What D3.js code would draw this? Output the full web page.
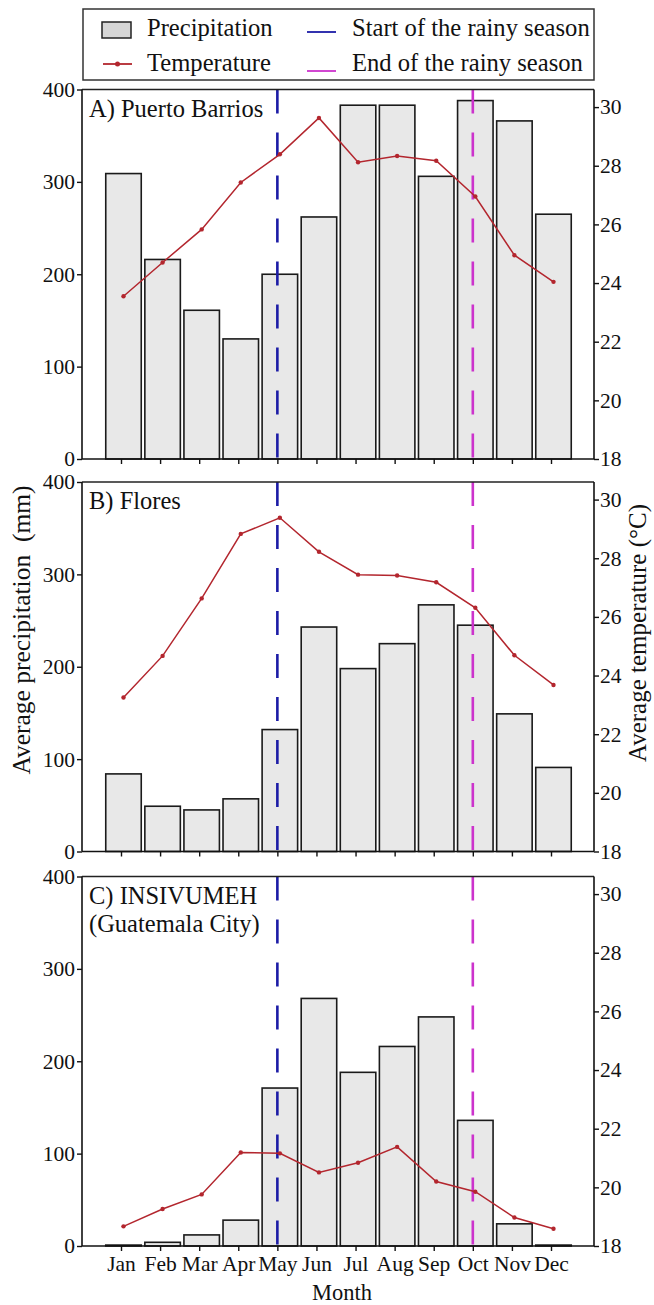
<!DOCTYPE html>
<html><head><meta charset="utf-8">
<script src="https://cdn.jsdelivr.net/npm/d3@7"></script>
<style>body{margin:0;background:#fff}svg{display:block}text{font-family:"Liberation Serif","Times New Roman",serif;fill:#111}</style>
</head><body>
<script>
const months = ["Jan","Feb","Mar","Apr","May","Jun","Jul","Aug","Sep","Oct","Nov","Dec"];
const precipA = [309, 216, 161, 130, 200, 262, 383, 383, 306, 388, 366, 265];
const tempA = [23.55, 24.7, 25.83, 27.43, 28.39, 29.63, 28.12, 28.33, 28.17, 26.95, 24.95, 24.04];
const precipB = [84, 49, 45, 57, 132, 243, 198, 225, 267, 245, 149, 91];
const tempB = [23.25, 24.67, 26.63, 28.83, 29.38, 28.22, 27.44, 27.41, 27.18, 26.31, 24.69, 23.68];
const precipC = [1, 4, 12, 28, 171, 268, 188, 216, 248, 136, 24, 1];
const tempC = [18.67, 19.26, 19.76, 21.19, 21.16, 20.51, 20.84, 21.38, 20.2, 19.85, 18.97, 18.59];
const panelLabels = [["A) Puerto Barrios"], ["B) Flores"], ["C) INSIVUMEH", "(Guatemala City)"]];
const precipTicks = [0, 100, 200, 300, 400];
const tempTicks = [18, 20, 22, 24, 26, 28, 30];
const rainyStart = "May", rainyEnd = "Oct";

const W = 654, H = 1305;
const L = 82, R = 594;
const tops = [89.5, 482, 876.5];
const ph = 369.5;
const cBar = "#e8e8e8", cTemp = "#b3262e", cStart = "#1c1ca6", cEnd = "#cc33cc";

const svg = d3.select("body").append("svg").attr("width", W).attr("height", H);

const x = d3.scalePoint().domain(months).range([121, 551]);
const off = 2.5, bw = 35.5;

const panels = [
  {p: precipA, t: tempA, lab: panelLabels[0]},
  {p: precipB, t: tempB, lab: panelLabels[1]},
  {p: precipC, t: tempC, lab: panelLabels[2]}
];

panels.forEach((pn, k) => {
  const top = tops[k], bot = top + ph;
  const y = d3.scaleLinear().domain([0, 400]).range([bot, top]);
  const y2 = d3.scaleLinear().domain([18, 30.6]).range([bot, top]);
  const g = svg.append("g");

  g.selectAll("rect.bar").data(pn.p).join("rect")
    .attr("x", (d, i) => x(months[i]) + off - bw / 2)
    .attr("y", d => y(d))
    .attr("width", bw)
    .attr("height", d => y(0) - y(d))
    .attr("fill", cBar).attr("stroke", "#1a1a1a").attr("stroke-width", 1.6);

  [[rainyStart, cStart], [rainyEnd, cEnd]].forEach(([m, c]) => {
    g.append("line").attr("x1", x(m)).attr("x2", x(m)).attr("y1", top).attr("y2", bot)
      .attr("stroke", c).attr("stroke-width", 2.6).attr("stroke-dasharray", "24,19");
  });

  const line = d3.line().x((d, i) => x(months[i]) + off).y(d => y2(d));
  g.append("path").datum(pn.t).attr("d", line).attr("fill", "none")
    .attr("stroke", cTemp).attr("stroke-width", 1.5);
  g.selectAll("circle").data(pn.t).join("circle")
    .attr("cx", (d, i) => x(months[i]) + off).attr("cy", d => y2(d)).attr("r", 2.2)
    .attr("fill", cTemp);

  g.append("line").attr("x1", L).attr("x2", R).attr("y1", top).attr("y2", top)
    .attr("stroke", "#222").attr("stroke-width", 1.5);

  const la = g.append("g").attr("transform", `translate(${L},0)`)
    .call(d3.axisLeft(y).tickValues(precipTicks).tickSize(5).tickPadding(2).tickSizeOuter(0));
  const ra = g.append("g").attr("transform", `translate(${R},0)`)
    .call(d3.axisRight(y2).tickValues(tempTicks).tickSize(5).tickPadding(1).tickSizeOuter(0));
  const ba = g.append("g").attr("transform", `translate(0,${bot})`)
    .call(d3.axisBottom(x).tickSize(5).tickPadding(5).tickSizeOuter(0)
      .tickFormat(k === 2 ? (d => d) : () => ""));
  [la, ra, ba].forEach(a => {
    a.select(".domain").attr("stroke", "#111").attr("stroke-width", 1.6);
    a.selectAll(".tick line").attr("stroke", "#111").attr("stroke-width", 1.4);
    a.selectAll("text").attr("font-size", 21.5).attr("fill", "#111");
  });
  la.select(".domain").attr("d", `M0,${top}V${bot}`);
  ba.select(".domain").attr("d", `M${L},0H${R}`);
  ra.select(".domain").attr("d", `M0,${top}V${bot}`);
  ba.selectAll("text").attr("dy", "0.71em");

  pn.lab.forEach((s, j) => {
    g.append("text").attr("x", 89).attr("y", top + 27 + j * 28)
      .attr("font-size", 24.5).text(s);
  });
});

svg.append("text").attr("transform", "translate(30,630) rotate(-90)")
  .attr("text-anchor", "middle").attr("font-size", 25.5).style("white-space", "pre")
  .text("Average precipitation  (mm)");
svg.append("text").attr("transform", "translate(646,633) rotate(-90)")
  .attr("text-anchor", "middle").attr("font-size", 25)
  .text("Average temperature (°C)");
svg.append("text").attr("x", 342).attr("y", 1300).attr("text-anchor", "middle")
  .attr("font-size", 22.5).text("Month");

const lg = svg.append("g");
lg.append("rect").attr("x", 83).attr("y", 9).attr("width", 511).attr("height", 71)
  .attr("fill", "#fff").attr("stroke", "#333").attr("stroke-width", 1.5);
lg.append("rect").attr("x", 102).attr("y", 22).attr("width", 29).attr("height", 16)
  .attr("fill", "#d6d6d6").attr("stroke", "#222").attr("stroke-width", 1.5);
lg.append("text").attr("x", 147).attr("y", 36).attr("font-size", 24.6).text("Precipitation");
lg.append("line").attr("x1", 103).attr("x2", 132).attr("y1", 64).attr("y2", 64)
  .attr("stroke", cTemp).attr("stroke-width", 1.8);
lg.append("circle").attr("cx", 117.5).attr("cy", 64).attr("r", 2.5).attr("fill", cTemp);
lg.append("text").attr("x", 147).attr("y", 71).attr("font-size", 24.6).text("Temperature");
lg.append("line").attr("x1", 307).attr("x2", 336).attr("y1", 32).attr("y2", 32)
  .attr("stroke", cStart).attr("stroke-width", 1.8);
lg.append("text").attr("x", 352).attr("y", 36).attr("font-size", 24.6).text("Start of the rainy season");
lg.append("line").attr("x1", 307).attr("x2", 336).attr("y1", 71).attr("y2", 71)
  .attr("stroke", cEnd).attr("stroke-width", 1.8);
lg.append("text").attr("x", 352).attr("y", 71).attr("font-size", 24.6).text("End of the rainy season");
</script>
</body></html>
